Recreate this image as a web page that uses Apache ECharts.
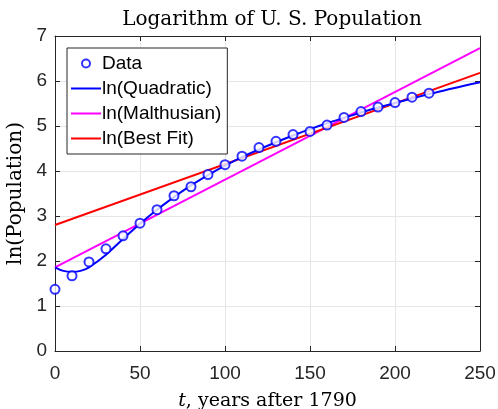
<!DOCTYPE html>
<html>
<head>
<meta charset="utf-8">
<script src="https://cdn.jsdelivr.net/npm/echarts@6/dist/echarts.min.js"></script>
<style>html,body{margin:0;padding:0;background:#fff}#c{width:498px;height:409px}</style>
</head>
<body>
<div id="c"></div>
<script>
// Census data: t (years after 1790) and ln(population in millions)
const years = [0,10,20,30,40,50,60,70,80,90,100,110,120,130,140,150,160,170,180,190,200,210,220];
const lnPop = [1.37,1.67,1.98,2.27,2.56,2.84,3.14,3.45,3.65,3.92,4.14,4.33,4.52,4.66,4.81,4.88,5.02,5.19,5.32,5.42,5.52,5.64,5.73];
// ln(Quadratic) curve
const quadT = [0,5,10,15,20,30,40,50,60,70,80,90,100,110,120,130,140,150,160,170,180,190,200,210,220,230,240,250];
const quadLn = [1.86,1.78,1.76,1.78,1.86,2.14,2.49,2.83,3.14,3.42,3.68,3.91,4.12,4.31,4.48,4.64,4.79,4.93,5.06,5.18,5.30,5.41,5.51,5.61,5.71,5.80,5.89,5.97];
// ln(Malthusian) line
const malthT = [0,250];
const malthLn = [1.86,6.73];
// ln(Best Fit) line
const bestT = [0,250];
const bestLn = [2.80,6.18];
const xTicks = [0,50,100,150,200,250];
const yTicks = [0,1,2,3,4,5,6,7];

const zip = (a,b) => a.map((v,i) => [v,b[i]]);
const sans = 'Liberation Sans, Arial, sans-serif';
const serif = 'DejaVu Serif, serif';
const axisCol = '#262626';
const lineIcon = 'path://M0,0h30v2h-30z';

const chart = echarts.init(document.getElementById('c'), null, {renderer:'canvas'});
const baseX = {
  type:'value', min:xTicks[0], max:xTicks[xTicks.length-1], interval:50,
  axisLine:{show:true, onZero:false, lineStyle:{color:axisCol, width:1}},
  axisTick:{show:true, inside:true, length:5, lineStyle:{color:axisCol}},
};
const baseY = {
  type:'value', min:yTicks[0], max:yTicks[yTicks.length-1], interval:1,
  axisLine:{show:true, onZero:false, lineStyle:{color:axisCol, width:1}},
  axisTick:{show:true, inside:true, length:5, lineStyle:{color:axisCol}},
};
chart.setOption({
  animation:false,
  title:{
    text:'Logarithm of U. S. Population', left:267, textAlign:'center', top:5,
    textStyle:{fontFamily:serif, fontWeight:'normal', fontSize:20, color:'#000'}
  },
  grid:{left:55, right:18, top:36, bottom:58, containLabel:false, outerBoundsMode:'none'},
  legend:{
    orient:'vertical', left:67, top:48, itemWidth:30, itemHeight:8, itemGap:6,
    padding:[6,6,6,4], symbolKeepAspect:true,
    backgroundColor:'#fff', borderColor:axisCol, borderWidth:1,
    textStyle:{fontFamily:sans, fontSize:19, color:'#000', padding:[0,0,0,-4]},
    data:[
      {name:'Data', icon:'emptyCircle'},
      {name:'ln(Quadratic)', icon:lineIcon},
      {name:'ln(Malthusian)', icon:lineIcon},
      {name:'ln(Best Fit)', icon:lineIcon}
    ]
  },
  xAxis:[
    Object.assign({}, baseX, {
      position:'bottom',
      name:'{i|t}, years after 1790', nameLocation:'middle', nameGap:41,
      nameTextStyle:{fontFamily:serif, fontSize:19, color:'#000',
        rich:{i:{fontFamily:serif, fontStyle:'italic', fontSize:19, color:'#000'}}},
      axisLabel:{fontFamily:sans, fontSize:19, color:axisCol, margin:13},
      splitLine:{show:true, lineStyle:{color:'#e6e6e6', width:1}}
    }),
    Object.assign({}, baseX, {position:'top', axisLabel:{show:false}, splitLine:{show:false}})
  ],
  yAxis:[
    Object.assign({}, baseY, {
      position:'left',
      name:'ln(Population)', nameLocation:'middle', nameGap:29, nameRotate:90,
      nameTextStyle:{fontFamily:serif, fontSize:20, color:'#000'},
      axisLabel:{fontFamily:sans, fontSize:19, color:axisCol, margin:8},
      splitLine:{show:true, lineStyle:{color:'#e6e6e6', width:1}}
    }),
    Object.assign({}, baseY, {position:'right', axisLabel:{show:false}, splitLine:{show:false}})
  ],
  series:[
    {name:'Data', type:'scatter', data:zip(years,lnPop), symbol:'emptyCircle', symbolSize:9,
     itemStyle:{color:'#0000ff', borderColor:'#0000ff', borderWidth:1}, z:5},
    {name:'ln(Quadratic)', type:'line', data:zip(quadT,quadLn), smooth:0.4, symbol:'none',
     lineStyle:{color:'#0000ff', width:2}, itemStyle:{color:'#0000ff'}, z:4},
    {name:'ln(Malthusian)', type:'line', data:zip(malthT,malthLn), symbol:'none',
     lineStyle:{color:'#ff00ff', width:2}, itemStyle:{color:'#ff00ff'}, z:3},
    {name:'ln(Best Fit)', type:'line', data:zip(bestT,bestLn), symbol:'none',
     lineStyle:{color:'#ff0000', width:2}, itemStyle:{color:'#ff0000'}, z:3}
  ]
});
</script>
</body>
</html>
